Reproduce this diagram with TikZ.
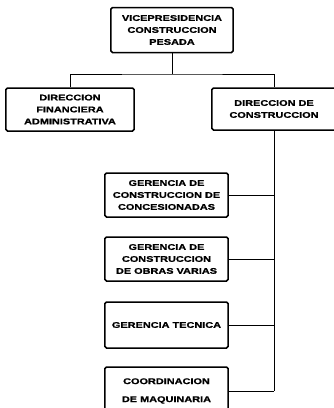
\documentclass[tikz,border=0pt]{standalone}
\usepackage{fontspec}
\setmainfont[FakeStretch=1.32, BoldFeatures={FakeBold=1.2}]{Liberation Sans}
\tikzstyle{caja} = [draw, line width=1.5bp, rounded corners=1.5bp, align=center, inner sep=0pt, font=\bfseries\fontsize{8.3}{12}\selectfont]
\tikzstyle{linea} = [line width=0.9bp]

\begin{document}
\begin{tikzpicture}[x=1bp, y=-1bp]
                \useasboundingbox (0, 0) rectangle (334, 408);
                \node [caja, minimum width=122bp, minimum height=45bp] (vp) at (172, 30) {VICEPRESIDENCIA\\CONSTRUCCION\\PESADA};
                \node [caja, minimum width=128bp, minimum height=43bp] (dfa) at (70, 109.5) {DIRECCION\\FINANCIERA\\ADMINISTRATIVA};
                \node [caja, minimum width=124bp, minimum height=42bp] (dc) at (274, 109) {DIRECCION DE\\CONSTRUCCION};
                \node [caja, minimum width=123bp, minimum height=44bp] (g1) at (166.5, 195) {GERENCIA DE\\CONSTRUCCION DE\\CONCESIONADAS};
                \node [caja, minimum width=123bp, minimum height=44bp] (g2) at (166.5, 259) {GERENCIA DE\\CONSTRUCCION\\DE OBRAS VARIAS};
                \node [caja, minimum width=123bp, minimum height=46bp] (g3) at (166.5, 325) {GERENCIA TECNICA};
                \node [caja, minimum width=123bp, minimum height=48bp] (g4) at (166.5, 391) {COORDINACION\\[6bp]DE MAQUINARIA};
                \coordinate (bus) at (172, 74);
                \draw [linea] (vp.south) -- (bus);
                \draw [linea] (dfa.north) |- (bus) -| (dc.north);
                \draw [linea] (dc.south) -- (dc.south |- g4.east);
                \foreach \g in {g1, g2, g3, g4}
                    \draw [linea] (\g.east) -- (\g.east -| dc.south);
            \end{tikzpicture}
\end{document}
